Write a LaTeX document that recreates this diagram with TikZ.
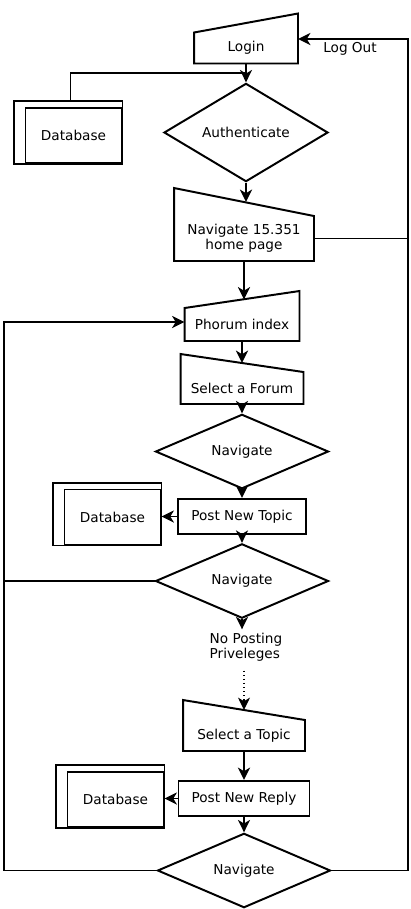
\documentclass[tikz,border=0pt]{standalone}
\usepackage{fontspec}
\setmainfont{DejaVu Sans}
\usetikzlibrary{shapes.geometric,arrows.meta,calc}

\def\px{0.025cm}

\begin{document}
\begin{tikzpicture}[x=0.025cm,y=-0.025cm,line width=1.4pt,
  font=\fontsize{9.7}{10.4}\selectfont,
  inbox/.style 2 args={rectangle, inner sep=0pt, align=center, minimum width=#1*\px, minimum height=#2*\px},
  procbox/.style 2 args={draw, rectangle, inner sep=0pt, minimum width=#1*\px, minimum height=#2*\px},
  decide/.style={draw, diamond, inner sep=0pt, minimum width=173*\px, minimum height=57*\px},
  dbase/.style={draw, rectangle, inner sep=0pt, minimum width=96*\px, minimum height=55*\px},
  arr/.style={-{Stealth[length=3.1mm,width=3mm,inset=0.9mm]}}]
\useasboundingbox (0,0) rectangle (411,909);

% main column
\node[inbox={102}{29}] (login) at (246,48) {Login};
\node[decide, minimum width=164*\px, minimum height=81*\px] (auth) at (246,132.5) {Authenticate};
\node[inbox={138}{43}] (navhome) at (244,238.5) {Navigate 15.351\\home page};
\node[inbox={113}{31}] (phorum) at (242,324.5) {Phorum index};
\node[inbox={121}{30}] (forum) at (242,388) {Select a Forum};
\node[decide] (nav1) at (242,451.5) {Navigate};
\node[procbox={128}{35}] (newtopic) at (242,516.5) {Post New Topic};
\node[decide] (nav2) at (242,581) {Navigate};
\node[align=left, inner sep=2pt] (noposting) at (246,647) {No Posting\\Priveleges};
\node[inbox={120}{29}] (topic) at (244,735.5) {Select a Topic};
\node[procbox={131}{35}] (newreply) at (244,798.5) {Post New Reply};
\node[decide] (nav3) at (244,870.5) {Navigate};

% databases
\node[dbase] (db1) at (73.5,135.5) {Database};
\node[dbase] (db2) at (112.5,517) {Database};
\node[dbase] (db3) at (115.5,799.5) {Database};
\foreach \n in {db1,db2,db3}
  \draw ([shift={(-11,-6)}]\n.north west) rectangle (\n.south east);

% manual input outlines
\foreach \n/\l/\r in {login/0/19, navhome/28/0, phorum/0/17, forum/18/0, topic/20/0}
  \draw ($(\n.north west)+(0,-\l)$) -- ($(\n.north east)+(0,-\r)$) -- (\n.south east) -- (\n.south west) -- cycle;

\node (logout) at (350,49) {Log Out};
\coordinate (rtop) at (408,39);
\coordinate (lft) at (4,322);

% arrows
\draw[arr] (login) -- (auth);
\draw ($(db1.north)+(-3,-6)$) |- ($(login.south)!.5!(auth.north)$);
\draw[arr] (auth.south) -- ($(auth.south |- navhome.north)+(0,-14)$);
\draw[arr] (navhome.south) -- ($(navhome.south |- phorum.north)+(0,-8.5)$);
\draw[arr] (phorum.south) -- ($(forum.north)+(0,-9)$);
\draw[arr] (forum) -- (nav1);
\draw[arr] (nav1) -- (newtopic);
\draw[arr] (newtopic.west) -- (newtopic.west -| db2.east);
\draw[arr] (newtopic) -- (nav2);
\draw[arr] (nav2.south) -- (nav2.south |- noposting.north);
\draw[arr, dotted, line width=0.9pt] ($(noposting.south -| topic.north)+(0,6)$) -- ($(topic.north)+(0,-10)$);
\draw[arr] (topic) -- (newreply);
\draw[arr] (newreply.west) -- (newreply.west -| db3.east);
\draw[arr] (newreply) -- (nav3);

% loops
\draw[arr] (nav3.east) -- (nav3.east -| rtop) -- (rtop) -- (rtop -| login.east);
\draw (navhome.east) -- (navhome.east -| rtop);
\draw[arr] (nav3.west) -- (nav3.west -| lft) -- (lft) -- (lft -| phorum.west);
\draw (nav2.west) -- (nav2.west -| lft);
\end{tikzpicture}
\end{document}
